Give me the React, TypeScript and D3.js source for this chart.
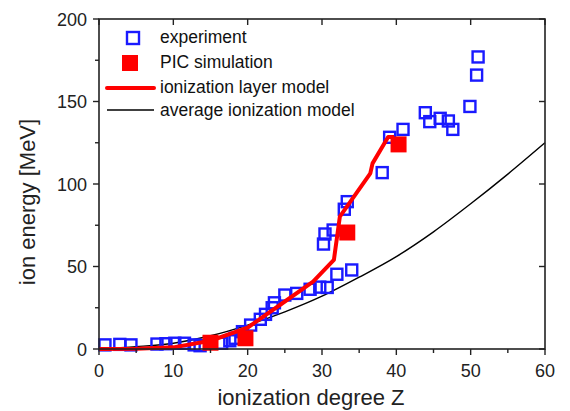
import { useEffect, useRef } from 'react';
import * as d3 from 'd3';

// experiment points [Z, energy MeV]
const experimentZ = [0.8, 2.8, 4.3, 7.8, 9, 10.2, 11.5, 12.8, 13.6, 16.5, 17.6, 18.3, 19.3, 20.4, 21.7, 22.4, 23.3, 23.6, 25, 26.6, 28.4, 29.7, 30.7, 32, 34, 30.2, 30.4, 31.5, 33, 33.4, 38.1, 39.1, 40.9, 43.9, 44.5, 45.9, 47, 47.6, 49.9, 50.8, 51];
const experimentE = [2.5, 2.8, 2.5, 3, 3.2, 3.5, 3.5, 2.5, 2, 3.5, 5, 6.5, 10.5, 14.5, 18, 21, 25, 28, 32.7, 33.7, 36.2, 37.5, 37.3, 45.3, 47.9, 63.6, 69.7, 72.1, 84.7, 89.3, 106.9, 128.3, 133.1, 143.2, 137.8, 139.8, 138.2, 133.1, 147, 166, 177];

const picZ = [15, 19.7, 33.4, 40.3];
const picE = [3.8, 6.5, 70.6, 124];

const layerZ = [0, 5, 10, 15, 20, 24, 28.8, 31.6, 32.4, 36.5, 36.8, 38.9, 39.7];
const layerE = [0, 0.2, 1, 5, 13, 25.6, 40.8, 54, 80.2, 106.5, 112.5, 128.5, 128.5];

const avgZ = [0, 5, 10, 15, 20, 25, 30, 35, 40, 45, 50, 55, 60];
const avgE = [0, 1.4, 3.5, 8, 14.5, 22.5, 32, 43.5, 56, 71, 88, 106, 125];

const xTicks = [0, 10, 20, 30, 40, 50, 60];
const xMinor = [5, 15, 25, 35, 45, 55];
const yTicks = [0, 50, 100, 150, 200];
const yMinor = [25, 75, 125, 175];

const legendLabels = ['experiment', 'PIC simulation', 'ionization layer model', 'average ionization model'];

const FONT = '"Liberation Sans", Arial, sans-serif';
const BLUE = '#1a1aff';
const RED = '#ff0000';

export default function App() {
  const ref = useRef<SVGSVGElement | null>(null);

  useEffect(() => {
    const svg = d3.select(ref.current);
    svg.selectAll('*').remove();

    const left = 99, right = 545, top = 19, bottom = 349;
    const x = d3.scaleLinear().domain([0, 60]).range([left, right]);
    const y = d3.scaleLinear().domain([0, 200]).range([bottom, top]);
    const axisColor = '#222';

    const g = svg.append('g');

    // average ionization model
    const avgLine = d3.line<number>().x((_, i) => x(avgZ[i])).y((_, i) => y(avgE[i])).curve(d3.curveMonotoneX);
    g.append('path').attr('d', avgLine(avgZ)).attr('fill', 'none').attr('stroke', '#000').attr('stroke-width', 1.4);

    // experiment squares
    const s = 11;
    g.selectAll('rect.exp').data(experimentZ).enter().append('rect')
      .attr('x', (d) => x(d) - s / 2)
      .attr('y', (_, i) => y(experimentE[i]) - s / 2)
      .attr('width', s).attr('height', s)
      .attr('fill', 'none').attr('stroke', BLUE).attr('stroke-width', 2.4);

    // ionization layer model
    const layerLine = d3.line<number>().x((_, i) => x(layerZ[i])).y((_, i) => y(layerE[i]));
    g.append('path').attr('d', layerLine(layerZ)).attr('fill', 'none').attr('stroke', RED).attr('stroke-width', 4).attr('stroke-linejoin', 'round');

    // PIC simulation
    const ps = 16;
    g.selectAll('rect.pic').data(picZ).enter().append('rect')
      .attr('x', (d) => x(d) - ps / 2)
      .attr('y', (_, i) => y(picE[i]) - ps / 2)
      .attr('width', ps).attr('height', ps)
      .attr('fill', RED);

    // frame
    svg.append('rect').attr('x', left).attr('y', top).attr('width', right - left).attr('height', bottom - top)
      .attr('fill', 'none').attr('stroke', axisColor).attr('stroke-width', 1.6);

    // ticks
    const tk = svg.append('g').attr('stroke', axisColor).attr('stroke-width', 1.4);
    xTicks.forEach((t) => {
      tk.append('line').attr('x1', x(t)).attr('x2', x(t)).attr('y1', bottom).attr('y2', bottom + 6);
      tk.append('line').attr('x1', x(t)).attr('x2', x(t)).attr('y1', top).attr('y2', top + 6);
    });
    xMinor.forEach((t) => {
      tk.append('line').attr('x1', x(t)).attr('x2', x(t)).attr('y1', bottom).attr('y2', bottom + 4);
    });
    yTicks.forEach((t) => {
      tk.append('line').attr('x1', left - 6).attr('x2', left).attr('y1', y(t)).attr('y2', y(t));
      tk.append('line').attr('x1', right - 6).attr('x2', right).attr('y1', y(t)).attr('y2', y(t));
    });
    yMinor.forEach((t) => {
      tk.append('line').attr('x1', left - 4).attr('x2', left).attr('y1', y(t)).attr('y2', y(t));
    });

    // tick labels
    svg.append('g').selectAll('text').data(xTicks).enter().append('text')
      .attr('x', (d) => x(d)).attr('y', 377)
      .attr('text-anchor', 'middle').style('font-family', FONT).style('font-size', '18px').attr('fill', '#222')
      .text((d) => d);
    svg.append('g').selectAll('text').data(yTicks).enter().append('text')
      .attr('x', 87).attr('y', (d) => y(d) + 6.5)
      .attr('text-anchor', 'end').style('font-family', FONT).style('font-size', '18px').attr('fill', '#222')
      .text((d) => d);

    // axis titles
    svg.append('text').attr('x', 311).attr('y', 405).attr('text-anchor', 'middle')
      .style('font-family', FONT).style('font-size', '22px').attr('fill', '#222').text('ionization degree Z');
    svg.append('text').attr('transform', 'translate(35,202) rotate(-90)').attr('text-anchor', 'middle')
      .style('font-family', FONT).style('font-size', '22px').attr('fill', '#222').text('ion energy [MeV]');

    // legend
    const lg = svg.append('g');
    lg.append('rect').attr('x', 133 - 6).attr('y', 38 - 6).attr('width', 12).attr('height', 12)
      .attr('fill', 'none').attr('stroke', BLUE).attr('stroke-width', 2.4);
    lg.append('rect').attr('x', 130 - 8).attr('y', 63 - 8).attr('width', 16).attr('height', 16).attr('fill', RED);
    lg.append('line').attr('x1', 107).attr('x2', 154).attr('y1', 88).attr('y2', 88).attr('stroke', RED).attr('stroke-width', 4).attr('stroke-linecap', 'round');
    lg.append('line').attr('x1', 107).attr('x2', 154).attr('y1', 110).attr('y2', 110).attr('stroke', '#000').attr('stroke-width', 1.4);
    const baselines = [43, 68, 93, 116];
    lg.selectAll('text').data(legendLabels).enter().append('text')
      .attr('x', 160).attr('y', (_, i) => baselines[i])
      .style('font-family', FONT).style('font-size', '17.5px').attr('fill', '#111')
      .text((d) => d);
  }, []);

  return <svg ref={ref} width={570} height={411} style={{ position: 'absolute', left: 0, top: 0, background: '#fff' }} />;
}
